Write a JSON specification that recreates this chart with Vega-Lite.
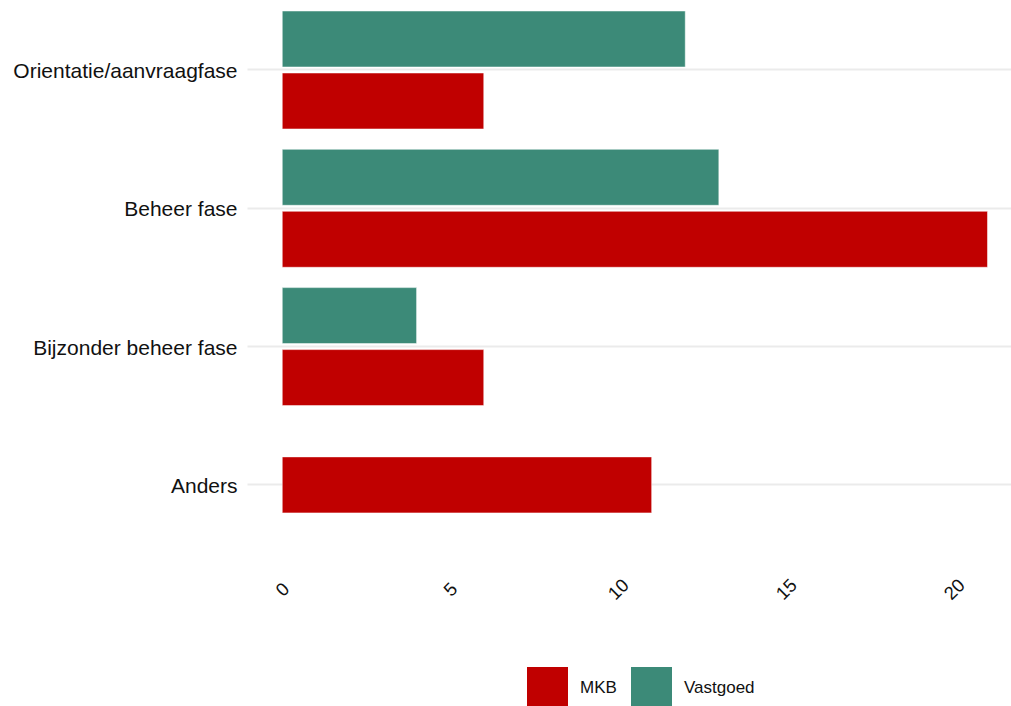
{
  "$schema": "https://vega.github.io/schema/vega-lite/v6.json",
  "width": 764,
  "height": 568,
  "autosize": {"type": "none"},
  "padding": {"left": 247, "top": 0, "right": 0, "bottom": 138},
  "background": "white",
  "config": {"view": {"stroke": null}, "font": "Liberation Sans"},
  "data": {
    "values": [
      {"fase": "Orientatie/aanvraagfase", "groep": "Vastgoed", "waarde": 12},
      {"fase": "Orientatie/aanvraagfase", "groep": "MKB", "waarde": 6},
      {"fase": "Beheer fase", "groep": "Vastgoed", "waarde": 13},
      {"fase": "Beheer fase", "groep": "MKB", "waarde": 21},
      {"fase": "Bijzonder beheer fase", "groep": "Vastgoed", "waarde": 4},
      {"fase": "Bijzonder beheer fase", "groep": "MKB", "waarde": 6},
      {"fase": "Anders", "groep": "MKB", "waarde": 11}
    ]
  },
  "encoding": {
    "y": {
      "field": "fase",
      "type": "nominal",
      "title": null,
      "scale": {
        "domain": ["Orientatie/aanvraagfase", "Beheer fase", "Bijzonder beheer fase", "Anders"],
        "paddingInner": 0,
        "paddingOuter": 0.0535,
        "align": 0.057
      },
      "axis": {
        "domain": false,
        "ticks": false,
        "grid": true,
        "gridColor": "#EBEBEB",
        "gridWidth": 2.2,
        "bandPosition": 0.5,
        "labelFontSize": 21,
        "labelColor": "#111111",
        "labelPadding": 10,
        "labelLimit": 400,
        "labelOffset": 2
      }
    },
    "x": {
      "field": "waarde",
      "type": "quantitative",
      "title": null,
      "scale": {"domain": [-1.05, 21.7], "nice": false, "zero": false},
      "axis": {
        "values": [0, 5, 10, 15, 20],
        "domain": false,
        "ticks": false,
        "grid": false,
        "labelAngle": -45,
        "labelAlign": "center",
        "labelBaseline": "middle",
        "labelPadding": 21,
        "labelFontSize": 18.5,
        "labelColor": "#111111"
      }
    },
    "x2": {"datum": 0},
    "color": {
      "field": "groep",
      "type": "nominal",
      "scale": {"domain": ["MKB", "Vastgoed"], "range": ["#C00000", "#3C8A78"]},
      "legend": {
        "orient": "none",
        "legendX": 280,
        "legendY": 667,
        "direction": "horizontal",
        "title": null,
        "symbolType": "square",
        "symbolSize": 1681,
        "symbolStrokeWidth": 0,
        "symbolOpacity": 1,
        "labelFontSize": 17,
        "labelOffset": 12,
        "columnPadding": 14,
        "padding": 0,
        "labelColor": "#111111"
      }
    }
  },
  "layer": [
    {
      "transform": [{"filter": "datum.fase !== 'Anders'"}],
      "mark": {"type": "bar", "stroke": "white", "strokeWidth": 0.5},
      "encoding": {
        "yOffset": {
          "field": "groep",
          "type": "nominal",
          "scale": {"domain": ["Vastgoed", "MKB"], "paddingInner": 0.097, "paddingOuter": 0.164}
        }
      }
    },
    {
      "transform": [{"filter": "datum.fase === 'Anders'"}],
      "mark": {"type": "bar", "height": {"band": 0.405}, "stroke": "white", "strokeWidth": 0.5}
    }
  ]
}
